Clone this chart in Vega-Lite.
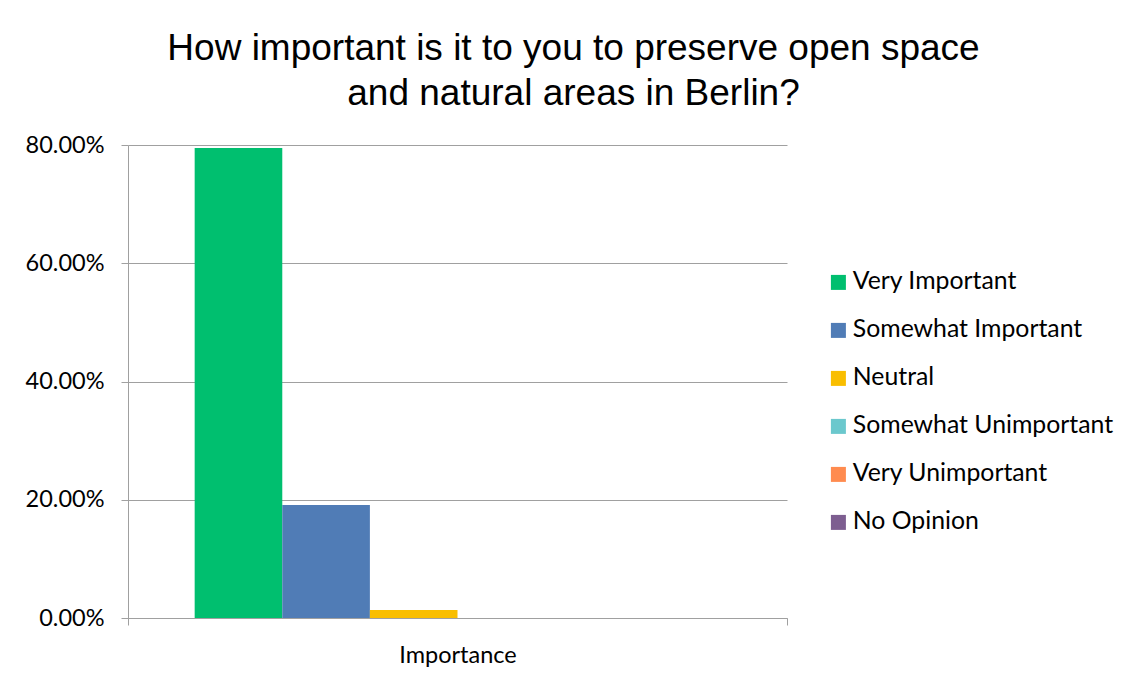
{
  "$schema": "https://vega.github.io/schema/vega-lite/v6.json",
  "width": 659,
  "height": 473,
  "autosize": "none",
  "padding": {"left": 128, "top": 145, "right": 342, "bottom": 64},
  "background": "white",
  "title": {
    "text": ["How important is it to you to preserve open space", "and natural areas in Berlin?"],
    "font": "Liberation Sans",
    "fontSize": 37,
    "fontWeight": "normal",
    "color": "#000000",
    "anchor": "middle",
    "frame": "group",
    "dx": 116,
    "offset": 20,
    "lineHeight": 45
  },
  "data": {
    "values": [
      {"group": "Importance", "response": "Very Important", "pct": 0.795},
      {"group": "Importance", "response": "Somewhat Important", "pct": 0.191},
      {"group": "Importance", "response": "Neutral", "pct": 0.0135},
      {"group": "Importance", "response": "Somewhat Unimportant", "pct": 0},
      {"group": "Importance", "response": "Very Unimportant", "pct": 0},
      {"group": "Importance", "response": "No Opinion", "pct": 0}
    ]
  },
  "mark": {"type": "bar"},
  "encoding": {
    "x": {
      "field": "group",
      "type": "nominal",
      "scale": {"paddingInner": 0, "paddingOuter": 0},
      "axis": {
        "title": null,
        "labelAngle": 0,
        "labelFont": "Lato",
        "labelFontSize": 23.5,
        "labelColor": "#000000",
        "labelPadding": 18,
        "domainColor": "#a0a0a0",
        "tickColor": "#a0a0a0",
        "tickSize": 7,
        "tickBand": "extent",
        "grid": false
      }
    },
    "xOffset": {
      "field": "response",
      "type": "nominal",
      "sort": ["Very Important", "Somewhat Important", "Neutral", "Somewhat Unimportant", "Very Unimportant", "No Opinion"],
      "scale": {"paddingInner": 0, "paddingOuter": 0.761}
    },
    "y": {
      "field": "pct",
      "type": "quantitative",
      "scale": {"domain": [0, 0.8], "nice": false},
      "axis": {
        "title": null,
        "values": [0, 0.2, 0.4, 0.6, 0.8],
        "format": ".2%",
        "labelFont": "Lato",
        "labelFontSize": 23.5,
        "labelColor": "#000000",
        "labelPadding": 17,
        "domainColor": "#a0a0a0",
        "tickColor": "#a0a0a0",
        "tickSize": 7,
        "gridColor": "#a0a0a0",
        "grid": true
      }
    },
    "color": {
      "field": "response",
      "type": "nominal",
      "sort": ["Very Important", "Somewhat Important", "Neutral", "Somewhat Unimportant", "Very Unimportant", "No Opinion"],
      "scale": {
        "domain": ["Very Important", "Somewhat Important", "Neutral", "Somewhat Unimportant", "Very Unimportant", "No Opinion"],
        "range": ["#00BF6F", "#507CB6", "#F9BE00", "#6BC8CD", "#FF8B4F", "#7D5E90"]
      },
      "legend": {
        "title": null,
        "orient": "none",
        "legendX": 698,
        "legendY": 125,
        "symbolType": "square",
        "symbolSize": 225,
        "symbolStrokeWidth": 0,
        "labelFont": "Lato",
        "labelFontSize": 24.8,
        "labelColor": "#000000",
        "labelOffset": 2,
        "labelLimit": 400,
        "rowPadding": 22
      }
    }
  },
  "config": {
    "view": {"stroke": null}
  }
}
